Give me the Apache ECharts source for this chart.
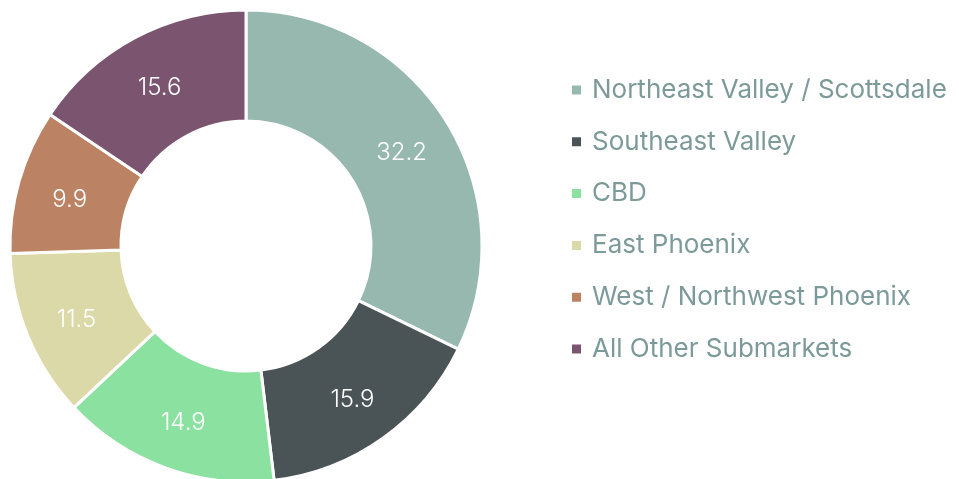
<!DOCTYPE html>
<html>
<head>
<meta charset="utf-8">
<script src="https://cdn.jsdelivr.net/npm/echarts@6/dist/echarts.min.js"></script>
<style>
	html, body { margin: 0; padding: 0; background: #fff; }
	#main { width: 959px; height: 479px; }
</style>
</head>
<body>
<div id="main"></div>
<script>
	var submarkets = ['Northeast Valley / Scottsdale', 'Southeast Valley', 'CBD', 'East Phoenix', 'West / Northwest Phoenix', 'All Other Submarkets'];
	var shares = [32.2, 15.9, 14.9, 11.5, 9.9, 15.6];
	var colors = ['#97b8ae', '#4a5355', '#8be19f', '#dcd9a8', '#bc8264', '#7b546f'];

	var chart = echarts.init(document.getElementById('main'));
	var option = {
		color: colors,
		legend: {
			orient: 'vertical',
			left: 570,
			top: 75,
			padding: 0,
			itemWidth: 11,
			itemHeight: 11,
			itemGap: 21.8,
			icon: 'rect',
			textStyle: {
				color: '#7c9a99',
				fontSize: 26,
				lineHeight: 30,
				fontFamily: 'Inter',
				padding: [0, 0, 0, 5]
			},
			data: submarkets
		},
		series: [{
			type: 'pie',
			center: [246, 246],
			radius: [125, 236],
			startAngle: 90,
			clockwise: true,
			avoidLabelOverlap: false,
			itemStyle: {
				borderColor: '#fff',
				borderWidth: 3
			},
			label: {
				show: true,
				position: 'inside',
				color: '#fff',
				fontSize: 24,
				fontFamily: 'Inter',
				fontWeight: 300,
				offset: [0, 4],
				formatter: function (p) { return p.value.toFixed(1); }
			},
			labelLine: { show: false },
			emphasis: { disabled: true },
			data: submarkets.map(function (name, i) {
				return { name: name, value: shares[i] };
			})
		}]
	};
	chart.setOption(option);
</script>
</body>
</html>
